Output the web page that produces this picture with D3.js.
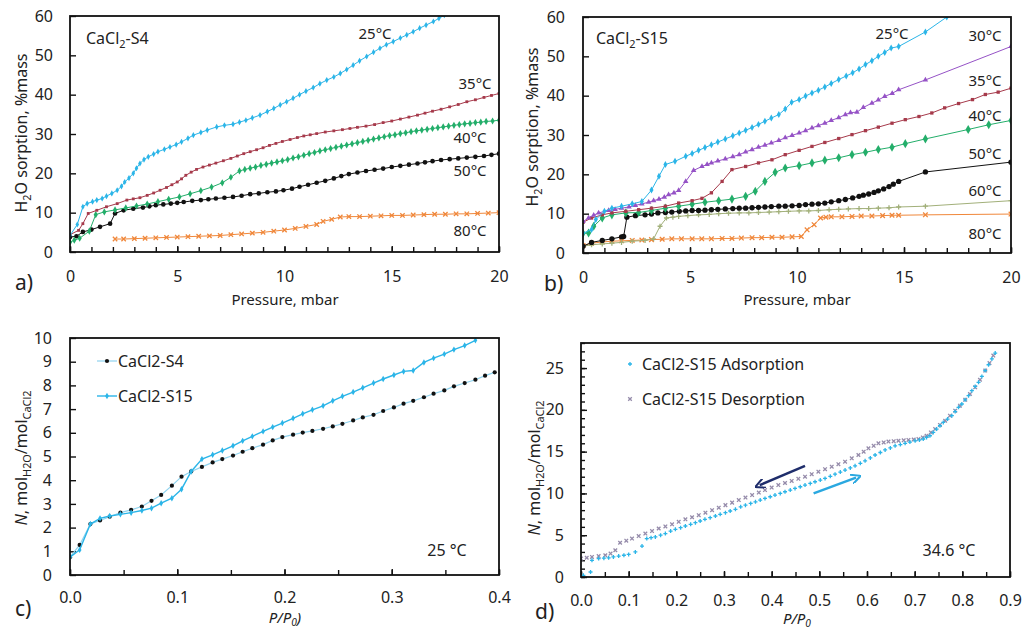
<!DOCTYPE html>
<html>
<head>
<meta charset="utf-8">
<script src="https://cdn.jsdelivr.net/npm/d3@7"></script>
<style>
body { margin: 0; background: #fff; }
text { font-family: "Noto Sans", sans-serif; fill: #222; }
</style>
</head>
<body>
<script>
// ---- panel a : CaCl2-S4, H2O sorption (%mass) vs pressure (mbar)
let a25 = [[0,4.2],[0.34,7],[0.6,11.5],[0.8,12.3],[1.05,12.8],[1.25,13.2],[1.5,13.6],[1.7,14.2],[1.95,14.9],[2.2,15.7],[2.4,16.7],[2.55,17.8],[2.75,18.8],[2.95,20],[3.1,21.3],[3.26,22.5],[3.45,23.5],[3.65,24.2],[3.9,24.9],[4.1,25.5],[4.4,26.1],[4.66,26.7],[4.95,27.3],[5.2,28],[5.5,28.9],[5.75,29.7],[6.1,30.4],[6.4,31],[6.84,31.8],[7.2,32.2],[7.6,32.5],[7.9,33],[8.2,33.5],[8.5,34.1],[8.86,34.8],[9.2,35.7],[9.5,36.5],[9.8,37.4],[10.1,38.2],[10.4,39.1],[10.7,40],[11,40.9],[11.34,41.8],[11.65,42.8],[11.97,43.7],[12.3,44.5],[12.6,45.4],[12.9,46.4],[13.2,47.5],[13.5,48.6],[13.83,49.7],[14.15,50.8],[14.45,51.8],[14.75,52.7],[15.07,53.5],[15.4,54.4],[15.7,55.2],[16,56],[16.3,56.9],[16.6,57.7],[16.94,58.6],[17.2,59.4],[17.45,60.2]];
let a35 = [[0,4.4],[0.4,5.5],[0.6,7.2],[0.85,9.8],[1.25,10.6],[1.7,11.5],[2.2,12.3],[2.65,13.2],[2.95,13.5],[3.26,13.8],[3.6,14.4],[3.9,15],[4.2,15.7],[4.5,16.4],[4.75,17.1],[5,17.8],[5.2,18.6],[5.4,19.5],[5.65,20.3],[5.9,21],[6.2,21.6],[6.5,22.1],[6.8,22.6],[7.15,23.2],[7.5,23.8],[7.8,24.4],[8.1,25],[8.4,25.5],[8.7,26],[9,26.5],[9.3,27.1],[9.6,27.6],[9.9,28.1],[10.26,28.6],[10.6,29.1],[10.9,29.5],[11.2,29.8],[11.5,30.1],[11.9,30.5],[12.3,30.8],[12.7,31.1],[13.05,31.4],[13.4,31.7],[13.8,32],[14.2,32.4],[14.6,32.9],[15,33.3],[15.4,33.8],[15.8,34.3],[16.2,34.8],[16.55,35.3],[16.9,35.8],[17.3,36.3],[17.7,36.9],[18.1,37.5],[18.5,38.2],[18.9,38.7],[19.3,39.3],[19.65,39.8],[20,40.3]];
let a40 = [[0,2.5],[0.2,3],[0.45,3.5],[0.9,5.3],[1.2,9.5],[1.6,10.2],[2.1,10.7],[2.6,11.2],[3.1,11.7],[3.6,12.2],[4.1,12.8],[4.6,13.4],[5.1,14],[5.6,14.8],[6.1,15.6],[6.6,16.5],[7.1,17.6],[7.5,19],[7.9,20.6],[8.15,21],[8.4,21.3],[8.65,21.6],[8.9,22],[9.15,22.3],[9.4,22.6],[9.65,22.9],[9.9,23.2],[10.15,23.5],[10.4,23.9],[10.65,24.2],[10.9,24.6],[11.15,25],[11.4,25.3],[11.65,25.7],[11.9,26],[12.15,26.3],[12.4,26.6],[12.65,26.9],[12.9,27.2],[13.15,27.5],[13.4,27.8],[13.65,28.1],[13.9,28.4],[14.15,28.7],[14.4,29],[14.65,29.3],[14.9,29.6],[15.15,29.8],[15.4,30.1],[15.65,30.3],[15.9,30.6],[16.15,30.8],[16.4,31],[16.65,31.2],[16.9,31.4],[17.15,31.6],[17.4,31.8],[17.65,32],[17.9,32.2],[18.15,32.4],[18.4,32.6],[18.65,32.7],[18.9,32.9],[19.15,33],[19.4,33.2],[19.7,33.3],[20,33.5]];
let a50 = [[0,3.8],[0.3,4],[0.6,5.1],[1,5.7],[1.4,6.4],[1.87,7.2],[2.1,9.8],[2.5,10.6],[2.95,11],[3.4,11.3],[3.7,11.6],[4,11.9],[4.35,12.1],[4.7,12.3],[5,12.5],[5.3,12.7],[5.7,13],[6.1,13.2],[6.45,13.4],[6.8,13.6],[7.2,13.8],[7.6,14],[8,14.3],[8.4,14.7],[8.8,14.9],[9.2,15.2],[9.6,15.4],[9.95,15.7],[10.35,16.1],[10.7,16.6],[11.1,17.1],[11.5,17.6],[11.9,18.1],[12.3,18.7],[12.65,19.3],[13,19.8],[13.4,20.2],[13.8,20.6],[14.2,20.9],[14.6,21.2],[15,21.6],[15.4,21.9],[15.8,22.2],[16.2,22.5],[16.55,22.8],[16.9,23.1],[17.3,23.4],[17.7,23.6],[18.1,23.8],[18.5,24],[18.9,24.2],[19.3,24.4],[19.65,24.7],[20,25]];
let a80 = [[2.1,3.3],[2.5,3.3],[3,3.4],[3.5,3.5],[4,3.6],[4.5,3.7],[5,3.8],[5.5,3.9],[6,4],[6.5,4.1],[7,4.2],[7.5,4.4],[8,4.6],[8.5,4.8],[9,5],[9.5,5.3],[10,5.6],[10.5,6],[11,6.5],[11.5,7],[11.8,7.8],[12.2,8.3],[12.6,8.9],[13,9],[13.5,9],[14,9.1],[14.5,9.2],[15,9.3],[15.5,9.3],[16,9.4],[16.5,9.5],[17,9.6],[17.5,9.6],[18,9.7],[18.5,9.7],[19,9.8],[19.5,9.9],[20,10]];

// ---- panel b : CaCl2-S15
let b25 = [[0,5],[0.4,6],[0.6,8.5],[1,10.6],[1.35,11.4],[1.8,11.9],[2.3,12.5],[2.75,13.1],[3.2,16],[3.55,19.5],[3.85,22.5],[4.3,23.3],[4.8,24.6],[5.1,25.3],[5.4,26.1],[5.7,26.8],[6,27.5],[6.3,28.2],[6.65,29],[7,29.8],[7.3,30.5],[7.6,31.2],[7.9,31.9],[8.2,32.7],[8.5,33.5],[8.8,34.3],[9.15,35.2],[9.45,36.6],[9.75,38.3],[10.1,39],[10.4,39.9],[10.7,40.7],[11,41.4],[11.3,42.2],[11.6,43.1],[11.95,44.1],[12.3,45],[12.6,45.8],[12.9,46.8],[13.2,47.9],[13.5,48.9],[13.8,50],[14.1,51],[14.4,52.1],[14.75,52.5],[16,56.2],[17,60]];
let b30 = [[0,8],[0.26,8.9],[0.5,9.6],[0.73,10.2],[1.2,10.8],[1.5,11.1],[1.8,11.4],[2.15,11.7],[2.45,12.1],[2.75,12.5],[3.07,12.9],[3.3,13.3],[3.55,13.7],[3.8,14.2],[4,14.8],[4.25,15.3],[4.47,15.9],[4.8,18.2],[5.17,21],[5.56,22],[5.8,22.5],[6,22.9],[6.3,23.4],[6.65,23.9],[7,24.5],[7.3,25],[7.6,25.7],[7.9,26.3],[8.2,26.9],[8.5,27.4],[8.8,28],[9.15,28.6],[9.45,29.3],[9.77,29.9],[10.1,30.5],[10.4,31.1],[10.7,31.8],[11,32.4],[11.3,33],[11.6,33.7],[11.95,34.4],[12.26,35.2],[12.5,35.7],[12.8,35.8],[13.1,37],[13.5,38.1],[13.8,38.9],[14.1,39.8],[14.45,40.6],[14.75,41.5],[16,44],[20,52.5]];
let b35 = [[0,7.8],[0.4,8.9],[0.9,9.7],[1.35,10.2],[2,10.6],[2.6,11],[3.2,11.4],[3.85,11.9],[4.47,12.7],[5.1,13.3],[5.56,13.9],[6,15.3],[6.5,18.2],[6.96,21.2],[7.6,22],[8.2,22.9],[8.83,23.7],[9.45,25],[10.1,26.1],[10.7,27.1],[11.3,28.1],[11.95,29.1],[12.57,30.1],[13.2,31.1],[13.8,32],[14.44,33],[15.06,33.9],[15.7,34.7],[16.3,35.6],[16.9,36.9],[17.55,38],[18.2,39],[18.8,40.3],[19.4,40.9],[20,41.9]];
let b40 = [[0,5],[0.26,5.1],[0.5,6.8],[0.9,8.9],[1.35,9.7],[2,10.2],[2.6,10.3],[3.2,10.8],[3.85,11.4],[4.47,11.9],[5.1,12.4],[5.7,12.9],[6.34,13.3],[6.96,13.7],[7.6,14.4],[8.05,15.7],[8.5,18.2],[8.98,20.5],[9.45,21.6],[10.1,22.2],[10.7,22.9],[11.3,23.6],[11.95,24.2],[12.57,25],[13.2,25.6],[13.8,26.3],[14.44,26.9],[15.06,27.8],[16,29],[18,31.4],[18.96,32.6],[20,33.7]];
let b50 = [[0,1.7],[0.4,2.7],[0.9,3.2],[1.35,3.6],[1.8,4.1],[1.9,4.2],[2.05,9.1],[2.45,9.5],[2.9,9.7],[3.2,9.9],[3.5,10.2],[3.85,10.3],[4.15,10.4],[4.5,10.6],[4.8,10.7],[5.1,10.8],[5.4,10.8],[5.7,10.9],[6,11],[6.3,11.1],[6.65,11.2],[7,11.3],[7.3,11.4],[7.6,11.4],[7.9,11.5],[8.2,11.6],[8.5,11.7],[8.8,11.8],[9.15,11.9],[9.45,11.9],[9.77,12],[10.1,12.1],[10.4,12.3],[10.7,12.4],[11,12.5],[11.3,12.7],[11.6,13],[11.95,13.3],[12.26,13.6],[12.6,14],[12.9,14.4],[13.1,14.7],[13.35,15],[13.6,15.4],[13.8,15.8],[14.05,16.3],[14.3,16.9],[14.5,17.5],[14.75,18.2],[16,20.6],[20,23.1]];
let b60 = [[0,1.7],[0.4,2.1],[0.9,2.3],[1.35,2.5],[1.8,2.7],[2.3,3],[2.9,3.2],[3.3,3.6],[3.6,6.8],[3.9,8.9],[4.2,9.1],[4.47,9.3],[4.9,9.5],[5.4,9.7],[5.9,9.8],[6.34,10],[6.8,10.1],[7.3,10.2],[7.75,10.2],[8.2,10.3],[8.7,10.4],[9.15,10.5],[9.6,10.6],[10.1,10.7],[10.55,10.7],[11,10.8],[11.5,11],[11.95,11.1],[12.4,11.2],[12.9,11.3],[13.35,11.3],[13.8,11.4],[14.3,11.5],[14.75,11.7],[16,11.9],[20,13.3]];
let b80 = [[0,1.9],[0.4,2.5],[0.9,2.8],[1.35,3],[1.8,3.1],[2.3,3.2],[2.75,3.3],[3.2,3.4],[3.7,3.5],[4.15,3.6],[4.6,3.6],[5.1,3.6],[5.55,3.6],[6,3.6],[6.5,3.7],[6.96,3.7],[7.4,3.8],[7.9,3.9],[8.35,3.9],[8.83,4],[9.3,4],[9.77,4.1],[10.2,4.2],[10.47,5.9],[10.8,7.2],[11.1,8.9],[11.35,9.1],[11.6,9.2],[12.1,9.2],[12.57,9.3],[13,9.4],[13.5,9.4],[14,9.5],[14.44,9.6],[14.75,9.6],[16,9.7],[20,9.9]];

// ---- panel c : N (mol H2O / mol CaCl2) vs P/P0 at 25 C
let cRel = [0,0.009,0.019,0.028,0.037,0.047,0.057,0.067,0.076,0.085,0.095,0.104,0.113,0.123,0.133,0.142,0.152,0.161,0.170,0.180,0.189,0.198,0.208,0.217,0.226,0.236,0.245,0.254,0.264,0.273,0.283,0.292,0.302,0.311,0.320,0.330,0.339,0.349,0.358,0.368,0.378,0.387,0.396];
let cS4 = [0.75,1.27,2.15,2.3,2.46,2.63,2.75,2.89,3.13,3.38,3.77,4.15,4.37,4.56,4.75,4.89,5.04,5.2,5.35,5.5,5.68,5.82,5.92,6.01,6.08,6.17,6.27,6.38,6.52,6.65,6.76,6.92,7.07,7.23,7.35,7.5,7.65,7.79,7.96,8.1,8.24,8.41,8.55];
let cS15 = [0.75,1.06,2.15,2.39,2.49,2.56,2.63,2.72,2.82,3.03,3.24,3.62,4.37,4.89,5.07,5.25,5.45,5.66,5.85,6.06,6.24,6.41,6.61,6.8,6.97,7.14,7.35,7.54,7.72,7.9,8.1,8.27,8.44,8.59,8.63,8.97,9.15,9.32,9.51,9.68,9.9];

// ---- panel d : CaCl2-S15 at 34.6 C, adsorption / desorption
let dAds = [[0,0],[0.005,0.2],[0.02,0.6],[0.023,2],[0.037,2.2],[0.048,2.25],[0.058,2.3],[0.068,2.4],[0.079,2.5],[0.09,2.6],[0.1,2.7],[0.114,3],[0.128,3.7],[0.138,4.6],[0.147,4.7],[0.156,4.8],[0.167,5],[0.177,5.2],[0.188,5.5],[0.198,5.7],[0.209,5.9],[0.219,6.1],[0.23,6.3],[0.24,6.5],[0.25,6.7],[0.26,6.9],[0.271,7.1],[0.282,7.3],[0.292,7.5],[0.303,7.7],[0.313,7.9],[0.324,8.1],[0.335,8.4],[0.345,8.6],[0.356,8.8],[0.366,9],[0.376,9.2],[0.386,9.4],[0.397,9.6],[0.407,9.8],[0.418,10],[0.428,10.2],[0.439,10.4],[0.449,10.6],[0.46,10.8],[0.47,11],[0.481,11.2],[0.491,11.4],[0.502,11.6],[0.512,11.8],[0.523,12.05],[0.533,12.3],[0.544,12.55],[0.554,12.8],[0.565,13.05],[0.575,13.3],[0.586,13.6],[0.596,13.9],[0.607,14.25],[0.617,14.6],[0.628,14.9],[0.638,15.2],[0.649,15.45],[0.659,15.7],[0.67,15.85],[0.68,16],[0.69,16.15],[0.701,16.3],[0.71,16.4],[0.718,16.5],[0.725,16.7],[0.732,16.9],[0.739,17.3],[0.746,17.7],[0.753,18.1],[0.76,18.5],[0.769,18.9],[0.778,19.3],[0.785,19.8],[0.792,20.3],[0.799,20.7],[0.806,21.2],[0.813,21.7],[0.82,22.3],[0.827,22.8],[0.834,23.3],[0.841,24],[0.848,24.7],[0.855,25.4],[0.862,26.1],[0.869,26.8]];
let dDes = [[0,2.2],[0.012,2.3],[0.023,2.4],[0.037,2.5],[0.051,2.6],[0.062,2.8],[0.072,3.2],[0.082,4.1],[0.095,4.35],[0.107,4.6],[0.121,4.9],[0.135,5.2],[0.149,5.5],[0.163,5.8],[0.177,6.05],[0.191,6.3],[0.205,6.6],[0.219,6.9],[0.233,7.15],[0.247,7.4],[0.261,7.7],[0.275,8],[0.289,8.3],[0.303,8.6],[0.317,8.9],[0.331,9.2],[0.345,9.5],[0.359,9.8],[0.373,10.1],[0.386,10.4],[0.4,10.7],[0.414,11],[0.428,11.25],[0.442,11.5],[0.456,11.75],[0.47,12],[0.484,12.3],[0.498,12.6],[0.512,12.9],[0.526,13.2],[0.54,13.5],[0.554,13.8],[0.568,14.2],[0.582,14.6],[0.593,15],[0.603,15.4],[0.614,15.7],[0.624,16],[0.635,16.1],[0.645,16.2],[0.656,16.25],[0.666,16.3],[0.677,16.35],[0.687,16.4],[0.698,16.45],[0.708,16.5],[0.717,16.7],[0.725,16.9],[0.734,17.3],[0.743,17.7],[0.753,18.2],[0.764,18.7],[0.774,19.3],[0.785,19.9],[0.795,20.5],[0.806,21.2],[0.816,21.9],[0.827,22.7],[0.837,23.6],[0.848,24.7],[0.857,25.6],[0.865,26.5]];

let abTicksX = [0, 5, 10, 15, 20];
let abTicksY = [0, 10, 20, 30, 40, 50, 60];
let cTicksX = [0, 0.1, 0.2, 0.3, 0.4];
let cTicksY = [0, 1, 2, 3, 4, 5, 6, 7, 8, 9, 10];
let dTicksX = [0, 0.1, 0.2, 0.3, 0.4, 0.5, 0.6, 0.7, 0.8, 0.9];
let dTicksY = [0, 5, 10, 15, 20, 25];

let width = 1024;
let height = 635;
let svg = d3.select('body').append('svg')
            .attr('width', width)
            .attr('height', height)

let defs = svg.append('defs');

// marker shapes
function shape(type, s) {
  if (type == 'x') return `M${-s},${-s}L${s},${s}M${-s},${s}L${s},${-s}`;
  if (type == '+') return `M${-s},0L${s},0M0,${-s}L0,${s}`;
  let t = {diamond: d3.symbolDiamond, square: d3.symbolSquare, triangle: d3.symbolTriangle, circle: d3.symbolCircle}[type];
  return d3.symbol().type(t).size(s)();
}

function panel(o) {
  let x = d3.scaleLinear().domain(o.xd).range([o.l, o.r]);
  let y = d3.scaleLinear().domain(o.yd).range([o.b, o.t]);
  let g = svg.append('g');

  // minor ticks
  g.append('g').attr('transform', `translate(0,${o.b})`)
   .call(d3.axisBottom(x).tickValues(o.xMinor).tickSize(-5).tickFormat(''))
   .call(a => a.select('.domain').remove());
  g.append('g').attr('transform', `translate(${o.l},0)`)
   .call(d3.axisLeft(y).tickValues(o.yMinor).tickSize(-4).tickFormat(''))
   .call(a => a.select('.domain').remove());

  let xa = g.append('g').attr('transform', `translate(0,${o.b})`)
   .call(d3.axisBottom(x).tickValues(o.xt).tickSize(-6).tickPadding(o.xpad).tickFormat(o.xf));
  let ya = g.append('g').attr('transform', `translate(${o.l},0)`)
   .call(d3.axisLeft(y).tickValues(o.yt).tickSize(-6).tickPadding(o.ypad).tickFormat(d3.format('d')));
  [xa, ya].forEach(a => {
    a.select('.domain').remove();
    a.selectAll('text').attr('font-size', 16).attr('font-family', '"Noto Sans", sans-serif').attr('fill', '#222');
  });
  g.selectAll('.tick line').attr('stroke', '#111').attr('stroke-width', 1.4);

  let id = 'clip' + o.name;
  defs.append('clipPath').attr('id', id).append('rect')
      .attr('x', o.l).attr('y', o.t).attr('width', o.r - o.l).attr('height', o.b - o.t);
  let plot = g.append('g').attr('clip-path', `url(#${id})`);

  g.append('rect').attr('x', o.l).attr('y', o.t).attr('width', o.r - o.l).attr('height', o.b - o.t)
   .attr('fill', 'none').attr('stroke', '#111').attr('stroke-width', 1.8);

  return {x, y, g, plot};
}

function series(p, data, color, type, s, lw, mcolor) {
  if (lw > 0) {
    p.plot.append('path').datum(data)
     .attr('d', d3.line().x(d => p.x(d[0])).y(d => p.y(d[1])))
     .attr('fill', 'none').attr('stroke', color).attr('stroke-width', lw);
  }
  let stroked = (type == 'x' || type == '+');
  p.plot.selectAll(null).data(data).enter().append('path')
   .attr('transform', d => `translate(${p.x(d[0])},${p.y(d[1])})`)
   .attr('d', shape(type, s))
   .attr('fill', stroked ? 'none' : (mcolor || color))
   .attr('stroke', stroked ? (mcolor || color) : 'none')
   .attr('stroke-width', 1.3);
}

function label(x, y, txt, opts) {
  opts = opts || {};
  return svg.append('text').attr('x', x).attr('y', y)
            .attr('font-size', opts.size || 16)
            .attr('text-anchor', opts.anchor || 'start')
            .attr('font-family', opts.family || '"Noto Sans", sans-serif')
            .text(txt);
}

// subscript then the rest of the text back on the baseline
function sub(t, s, rest, shift) {
  shift = shift || 4;
  t.append('tspan').attr('dy', shift).attr('font-size', '68%').text(s);
  if (rest) t.append('tspan').attr('dy', -shift).text(rest);
}

let blue = '#2BB5E8', red = '#A63A4B', green = '#23AE6A', orange = '#F0873A',
    purple = '#9552C6', olive = '#A2B07A', black = '#111';

// ===== a)
let pa = panel({name: 'a', xd: [0, 20], yd: [0, 60], l: 70, r: 499, t: 16, b: 252,
  xt: abTicksX, yt: abTicksY, xMinor: d3.range(0, 21), yMinor: [], xpad: 19, ypad: 17, xf: d3.format('d')});
series(pa, a80, orange, 'x', 2.2, 1);
series(pa, a50, black, 'circle', 17, 1);
series(pa, a40, green, 'diamond', 15, 1);
series(pa, a35, red, 'square', 8, 1);
series(pa, a25, blue, 'diamond', 11, 1);

let t = label(86, 44, 'CaCl'); sub(t, '2', '-S4');
label(375, 39, '25°C', {anchor: 'middle', size: 15});
label(475, 89, '35°C', {anchor: 'middle', size: 15});
label(470, 143, '40°C', {anchor: 'middle', size: 15});
label(470, 176, '50°C', {anchor: 'middle', size: 15});
label(470, 236, '80°C', {anchor: 'middle', size: 15});
label(15, 290, 'a)', {size: 21, family: '"Liberation Serif", serif'});
label(285, 305, 'Pressure, mbar', {anchor: 'middle', size: 15});
t = svg.append('text').attr('transform', 'translate(27,133) rotate(-90)')
       .attr('text-anchor', 'middle').attr('font-size', 16).text('H');
sub(t, '2', 'O sorption, %mass');

// ===== b)
let pb = panel({name: 'b', xd: [0, 20], yd: [0, 60], l: 583, r: 1011, t: 17, b: 253,
  xt: abTicksX, yt: abTicksY, xMinor: d3.range(0, 21), yMinor: [], xpad: 19, ypad: 18, xf: d3.format('d')});
series(pb, b80, orange, 'x', 2.3, 1);
series(pb, b60, olive, '+', 2.5, 1);
series(pb, b50, black, 'circle', 22, 1);
series(pb, b40, green, 'diamond', 24, 1);
series(pb, b35, red, 'square', 11, 1);
series(pb, b30, purple, 'triangle', 13, 1);
series(pb, b25, blue, 'diamond', 14, 1);

t = label(596, 44, 'CaCl'); sub(t, '2', '-S15');
label(892, 39, '25°C', {anchor: 'middle', size: 15});
label(985, 41, '30°C', {anchor: 'middle', size: 15});
label(985, 86, '35°C', {anchor: 'middle', size: 15});
label(985, 121, '40°C', {anchor: 'middle', size: 15});
label(985, 159, '50°C', {anchor: 'middle', size: 15});
label(985, 196, '60°C', {anchor: 'middle', size: 15});
label(985, 239, '80°C', {anchor: 'middle', size: 15});
label(544, 291, 'b)', {size: 21, family: '"Liberation Serif", serif'});
label(797, 305, 'Pressure, mbar', {anchor: 'middle', size: 15});
t = svg.append('text').attr('transform', 'translate(538,127) rotate(-90)')
       .attr('text-anchor', 'middle').attr('font-size', 16).text('H');
sub(t, '2', 'O sorption,  %mass');

// ===== c)
let pc = panel({name: 'c', xd: [0, 0.4], yd: [0, 10], l: 70, r: 499, t: 338, b: 575,
  xt: cTicksX, yt: cTicksY, xMinor: d3.range(0, 0.401, 0.05), yMinor: [], xpad: 17, ypad: 18, xf: d3.format('.1f')});
series(pc, cRel.map((r, i) => [r, cS4[i]]), '#8FD3EE', 'circle', 14, 1.2, black);
series(pc, cRel.slice(0, cS15.length).map((r, i) => [r, cS15[i]]), blue, 'diamond', 12, 1.4);

pc.g.append('line').attr('x1', 97).attr('x2', 117).attr('y1', 361).attr('y2', 361).attr('stroke', '#8FD3EE').attr('stroke-width', 1.2);
pc.g.append('path').attr('transform', 'translate(107,361)').attr('d', shape('circle', 14)).attr('fill', black);
pc.g.append('line').attr('x1', 97).attr('x2', 117).attr('y1', 396).attr('y2', 396).attr('stroke', blue).attr('stroke-width', 1.4);
pc.g.append('path').attr('transform', 'translate(107,396)').attr('d', shape('diamond', 12)).attr('fill', blue);
label(118, 367, 'CaCl2-S4');
label(118, 402, 'CaCl2-S15');
label(447, 556, '25 °C', {anchor: 'middle'});
label(15, 616, 'c)', {size: 21, family: '"Liberation Serif", serif'});
t = svg.append('text').attr('x', 285).attr('y', 623).attr('text-anchor', 'middle')
       .attr('font-size', 15).attr('font-style', 'italic').text('P/P');
sub(t, '0', ')', 3);
t = svg.append('text').attr('transform', 'translate(27,458) rotate(-90)')
       .attr('text-anchor', 'middle').attr('font-size', 16);
t.append('tspan').attr('font-style', 'italic').text('N');
t.append('tspan').text(', mol');
sub(t, 'H2O', '/mol'); sub(t, 'CaCl2');

// ===== d)
let pd = panel({name: 'd', xd: [0, 0.9], yd: [0, 28], l: 581, r: 1010, t: 343, b: 577,
  xt: dTicksX, yt: dTicksY, xMinor: d3.range(0, 0.901, 0.05), yMinor: d3.range(0, 29), xpad: 18, ypad: 17, xf: d3.format('.1f')});
series(pd, dDes, '#958BAA', 'x', 1.8, 0);
series(pd, dAds, blue, '+', 2, 0);

defs.append('marker').attr('id', 'headNavy').attr('viewBox', '0 0 10 10').attr('refX', 5).attr('refY', 5)
    .attr('markerWidth', 4).attr('markerHeight', 4).attr('orient', 'auto')
    .append('path').attr('d', 'M0,0L10,5L0,10').attr('fill', 'none').attr('stroke', '#1F2D6B').attr('stroke-width', 2);
defs.append('marker').attr('id', 'headBlue').attr('viewBox', '0 0 10 10').attr('refX', 5).attr('refY', 5)
    .attr('markerWidth', 4).attr('markerHeight', 4).attr('orient', 'auto')
    .append('path').attr('d', 'M0,0L10,5L0,10').attr('fill', 'none').attr('stroke', '#2AA8E0').attr('stroke-width', 2);
pd.g.append('line').attr('x1', pd.x(0.47)).attr('y1', pd.y(13.3)).attr('x2', pd.x(0.375)).attr('y2', pd.y(11.0))
    .attr('stroke', '#1F2D6B').attr('stroke-width', 2.5).attr('marker-end', 'url(#headNavy)');
pd.g.append('line').attr('x1', pd.x(0.488)).attr('y1', pd.y(10.0)).attr('x2', pd.x(0.577)).attr('y2', pd.y(11.9))
    .attr('stroke', '#2AA8E0').attr('stroke-width', 2.5).attr('marker-end', 'url(#headBlue)');

pd.g.append('path').attr('transform', 'translate(630,364)').attr('d', shape('+', 2)).attr('stroke', blue).attr('stroke-width', 1.3);
pd.g.append('path').attr('transform', 'translate(630,399)').attr('d', shape('x', 1.8)).attr('stroke', '#958BAA').attr('stroke-width', 1.3);
label(642, 370, 'CaCl2-S15 Adsorption');
label(642, 405, 'CaCl2-S15 Desorption');
label(949, 556, '34.6 °C', {anchor: 'middle'});
label(535, 619, 'd)', {size: 21, family: '"Liberation Serif", serif'});
t = svg.append('text').attr('x', 797).attr('y', 624).attr('text-anchor', 'middle')
       .attr('font-size', 15).attr('font-style', 'italic').text('P/P');
sub(t, '0', null, 3);
t = svg.append('text').attr('transform', 'translate(540,468) rotate(-90)')
       .attr('text-anchor', 'middle').attr('font-size', 16);
t.append('tspan').attr('font-style', 'italic').text('N');
t.append('tspan').text(', mol');
sub(t, 'H2O', '/mol'); sub(t, 'CaCl2');
</script>
</body>
</html>
